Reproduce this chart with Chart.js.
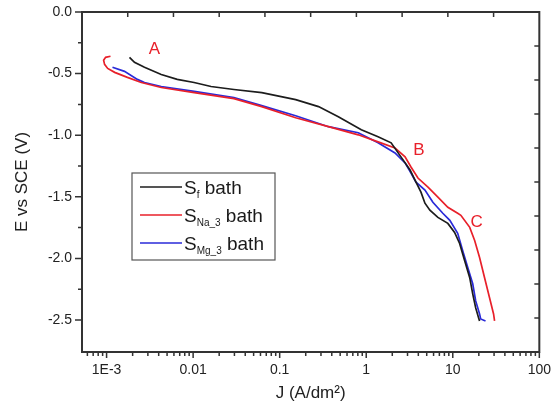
<!DOCTYPE html>
<html><head><meta charset="utf-8">
<script src="https://cdn.jsdelivr.net/npm/chart.js@4/dist/chart.umd.min.js"></script>
<style>html,body{margin:0;padding:0;background:#fff}#wrap{width:553px;height:404px;position:relative}</style>
</head><body><div id="wrap"><canvas id="c" width="553" height="404"></canvas></div>
<script>
// ---- data (J in A/dm², E in V vs SCE) ----
const sfJ = [0.00184,0.00210,0.00274,0.00428,0.00655,0.01026,0.0161,0.0296,0.0621,0.153,0.281,0.476,0.877,1.37,1.94,2.52,3.21,3.76,4.29,4.77,5.44,6.73,8.77,10.5,12.0,13.7,15.7,17.0,18.4,19.9,20.4];
const sfE = [-0.368,-0.408,-0.449,-0.507,-0.547,-0.572,-0.605,-0.629,-0.654,-0.711,-0.768,-0.850,-0.956,-1.013,-1.062,-1.176,-1.283,-1.381,-1.462,-1.552,-1.609,-1.667,-1.716,-1.789,-1.879,-2.018,-2.157,-2.288,-2.402,-2.484,-2.508];
const naJ = [0.00111,0.000975,0.000924,0.000948,0.00103,0.00124,0.00174,0.00252,0.00428,0.0103,0.0296,0.062,0.153,0.366,0.809,1.37,2.15,2.81,3.29,3.96,5.17,6.73,8.77,11.4,12.4,15.7,17.9,20.4,23.3,26.6,29.6,30.4];
const naE = [-0.359,-0.368,-0.392,-0.425,-0.458,-0.490,-0.531,-0.572,-0.613,-0.654,-0.703,-0.768,-0.858,-0.931,-0.997,-1.054,-1.103,-1.176,-1.258,-1.348,-1.422,-1.503,-1.585,-1.634,-1.650,-1.748,-1.855,-1.993,-2.157,-2.320,-2.451,-2.508];
const mgJ = [0.00117,0.00161,0.00227,0.00274,0.00428,0.0103,0.0296,0.062,0.153,0.366,0.809,1.37,2.15,2.81,3.29,3.76,4.77,5.89,7.67,9.25,11.4,13.0,14.9,17.0,18.4,20.4,21.0,23.9];
const mgE = [-0.449,-0.482,-0.547,-0.572,-0.605,-0.645,-0.694,-0.760,-0.842,-0.931,-0.980,-1.062,-1.144,-1.225,-1.307,-1.381,-1.446,-1.544,-1.634,-1.691,-1.797,-1.936,-2.075,-2.206,-2.345,-2.451,-2.492,-2.508];

const seriesMain = ['S', 'S', 'S'];
const seriesSub = ['f', 'Na_3', 'Mg_3'];
const seriesRest = ['bath', 'bath', 'bath'];
const seriesColors = ['#1c1c1c', '#e8202a', '#2a2ad8'];

const xMajorTicks = [0.001, 0.01, 0.1, 1, 10, 100];
const xTickLabels = ['1E-3', '0.01', '0.1', '1', '10', '100'];
const yMajorTicks = [0, -0.5, -1.0, -1.5, -2.0, -2.5];
const yTickLabels = ['0.0', '-0.5', '-1.0', '-1.5', '-2.0', '-2.5'];
const yMinorTicks = [-0.25, -0.75, -1.25, -1.75, -2.25];

const annoText = ['A', 'B', 'C'];
const annoJ = [0.00356, 4.06, 18.9];
const annoE = [-0.302, -1.119, -1.708];

const FONT = '"Liberation Sans", Arial, sans-serif';

// minor ticks of the log axis (2..9 × each decade)
const xMinorTicks = [];
for (let d = -4; d <= 1; d++) for (let k = 2; k <= 9; k++) xMinorTicks.push(k * Math.pow(10, d));

function pts(J, E) { return J.map((j, i) => ({x: j, y: E[i]})); }

const framePlugin = {
  id: 'frame',
  afterDraw(chart) {
    const ctx = chart.ctx, a = chart.chartArea;
    const xs = chart.scales.x, ys = chart.scales.y;
    ctx.save();
    ctx.strokeStyle = '#333'; ctx.lineWidth = 2;
    ctx.strokeRect(a.left, a.top, a.right - a.left, a.bottom - a.top);
    ctx.lineWidth = 1.5;
    ctx.beginPath();
    xMajorTicks.forEach(v => { const p = xs.getPixelForValue(v); ctx.moveTo(p, a.bottom); ctx.lineTo(p, a.bottom + 6); });
    xMinorTicks.forEach(v => { if (v < xs.min || v > xs.max) return; const p = xs.getPixelForValue(v); ctx.moveTo(p, a.bottom); ctx.lineTo(p, a.bottom + 4); });
    yMajorTicks.forEach(v => { const p = ys.getPixelForValue(v); ctx.moveTo(a.left, p); ctx.lineTo(a.left - 7, p); });
    yMinorTicks.forEach(v => { const p = ys.getPixelForValue(v); ctx.moveTo(a.left, p); ctx.lineTo(a.left - 4, p); });
    for (let i = 1; i < 10; i++) {
      const px = a.left + (a.right - a.left) * i / 10;
      ctx.moveTo(px, a.top); ctx.lineTo(px, a.top + 5);
      const py = a.top + (a.bottom - a.top) * i / 10;
      ctx.moveTo(a.right, py); ctx.lineTo(a.right - 5, py);
    }
    ctx.stroke();

    ctx.fillStyle = '#e8202a';
    ctx.font = '17px ' + FONT;
    ctx.textAlign = 'center'; ctx.textBaseline = 'middle';
    annoText.forEach((t, i) => ctx.fillText(t, xs.getPixelForValue(annoJ[i]), ys.getPixelForValue(annoE[i])));

    const bx = 132, by = 173, bw = 143, bh = 87;
    ctx.fillStyle = '#fff'; ctx.fillRect(bx, by, bw, bh);
    ctx.strokeStyle = '#555'; ctx.lineWidth = 1.2; ctx.strokeRect(bx, by, bw, bh);
    ctx.textAlign = 'left'; ctx.textBaseline = 'alphabetic';
    const rowY = [187, 215, 243];
    for (let i = 0; i < 3; i++) {
      const y = rowY[i];
      ctx.strokeStyle = seriesColors[i]; ctx.lineWidth = 1.6;
      ctx.beginPath(); ctx.moveTo(140, y); ctx.lineTo(182, y); ctx.stroke();
      ctx.fillStyle = '#1a1a1a';
      let x = 184;
      ctx.font = '19px ' + FONT; ctx.fillText(seriesMain[i], x, y + 7); x += ctx.measureText(seriesMain[i]).width;
      ctx.font = '10px ' + FONT; ctx.fillText(seriesSub[i], x, y + 11); x += ctx.measureText(seriesSub[i]).width;
      ctx.font = '19px ' + FONT; ctx.fillText(' ' + seriesRest[i], x, y + 7);
    }
    ctx.restore();
  }
};

new Chart(document.getElementById('c'), {
  type: 'line',
  data: {
    datasets: [
      {label: 'Sf bath', data: pts(sfJ, sfE), borderColor: seriesColors[0]},
      {label: 'SNa_3 bath', data: pts(naJ, naE), borderColor: seriesColors[1]},
      {label: 'SMg_3 bath', data: pts(mgJ, mgE), borderColor: seriesColors[2]}
    ].map(d => Object.assign(d, {borderWidth: 1.7, pointRadius: 0, tension: 0, fill: false}))
  },
  options: {
    responsive: false, animation: false, devicePixelRatio: 1,
    layout: {padding: {top: 12, right: 0, left: 0, bottom: 0}},
    plugins: {legend: {display: false}, tooltip: {enabled: false}},
    scales: {
      x: {
        type: 'logarithmic', position: 'bottom', min: 0.00052, max: 100,
        grid: {display: false}, border: {display: false},
        afterBuildTicks: s => { s.ticks = xMajorTicks.map(v => ({value: v})); },
        afterFit: s => { s.height = 52; },
        ticks: {autoSkip: false, maxRotation: 0, padding: 2, color: '#222', font: {family: FONT, size: 14},
                callback: (v, i) => xTickLabels[i]},
        title: {display: true, text: 'J (A/dm²)', color: '#222', font: {family: FONT, size: 17}, padding: {top: 0, bottom: 0}}
      },
      y: {
        type: 'linear', position: 'left', min: -2.76, max: 0,
        grid: {display: false}, border: {display: false},
        afterBuildTicks: s => { s.ticks = yMajorTicks.map(v => ({value: v})); },
        afterFit: s => { s.width = 82; },
        ticks: {autoSkip: false, padding: 2, color: '#222', font: {family: FONT, size: 14},
                callback: (v, i) => yTickLabels[i]},
        title: {display: true, text: 'E vs SCE (V)', color: '#222', font: {family: FONT, size: 17}, padding: {top: 12, bottom: 0}}
      }
    }
  },
  plugins: [framePlugin]
});
</script></body></html>
